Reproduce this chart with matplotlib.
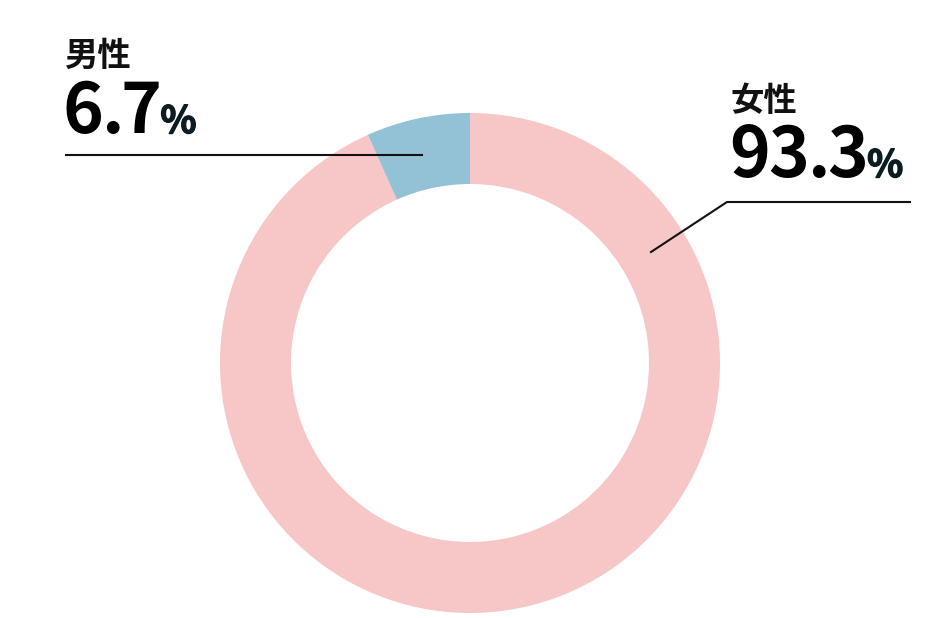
import matplotlib
matplotlib.use("Agg")
import matplotlib.pyplot as plt
import matplotlib.patheffects as pe

labels = ["女性", "男性"]
values = [93.3, 6.7]
colors = ["#F7C6C6", "#93C1D6"]
value_texts = ["93.3", "6.7"]

W, H = 944, 618
fig = plt.figure(figsize=(W / 100, H / 100), dpi=100)
ax = fig.add_axes([0, 0, 1, 1])

cx, cy, R = 470, H - 363, 250
ax.pie(values, colors=colors, startangle=90, counterclock=False,
       center=(cx, cy), radius=R, wedgeprops=dict(width=71, linewidth=0),
       frame=True)
ax.set_xlim(0, W)
ax.set_ylim(0, H)
ax.set_aspect("auto")
ax.axis("off")

fam = ["Noto Sans CJK JP", "DejaVu Sans"]

def y(v):
    return H - v

fig.canvas.draw()
r = fig.canvas.get_renderer()
inv = ax.transData.inverted()

def width_of(s, size):
    t = ax.text(0, 0, s, family=fam, weight="bold", fontsize=size)
    w = t.get_window_extent(r).width
    t.remove()
    return w

def tracked(x0, base, s, size, track, color):
    last = None
    for i, ch in enumerate(s):
        xi = x0 + (width_of(s[:i], size) if i else 0) - i * track
        last = ax.text(xi, y(base), ch, family=fam, weight="bold", fontsize=size,
                       va="baseline", ha="left", color=color)
    fig.canvas.draw()
    bb = last.get_window_extent(r)
    return inv.transform((bb.x1, 0))[0]

def pct(x, base):
    ax.text(x, y(base), "%", family=fam, weight="bold", fontsize=27,
            va="baseline", ha="left", color="#0b1d22",
            path_effects=[pe.withStroke(linewidth=1.0, foreground="#0b1d22")])

# male label
ax.plot([66, 422], [y(155), y(155)], color="#111111", lw=1.5)
ax.text(64, y(66), labels[1], family=fam, weight="bold", fontsize=24,
        va="baseline", ha="left", color="#111111")
end1 = tracked(63, 133, value_texts[1], 50, 3, "#000000")
pct(end1 - 1, 133)

# female label
ax.plot([651, 727, 910], [y(252), y(202), y(202)], color="#111111", lw=1.5)
ax.text(730, y(111), labels[0], family=fam, weight="bold", fontsize=24,
        va="baseline", ha="left", color="#111111")
end0 = tracked(729, 177, value_texts[0], 50, 2, "#000000")
pct(end0 - 1, 177)

fig.savefig("out.png", dpi=100)
